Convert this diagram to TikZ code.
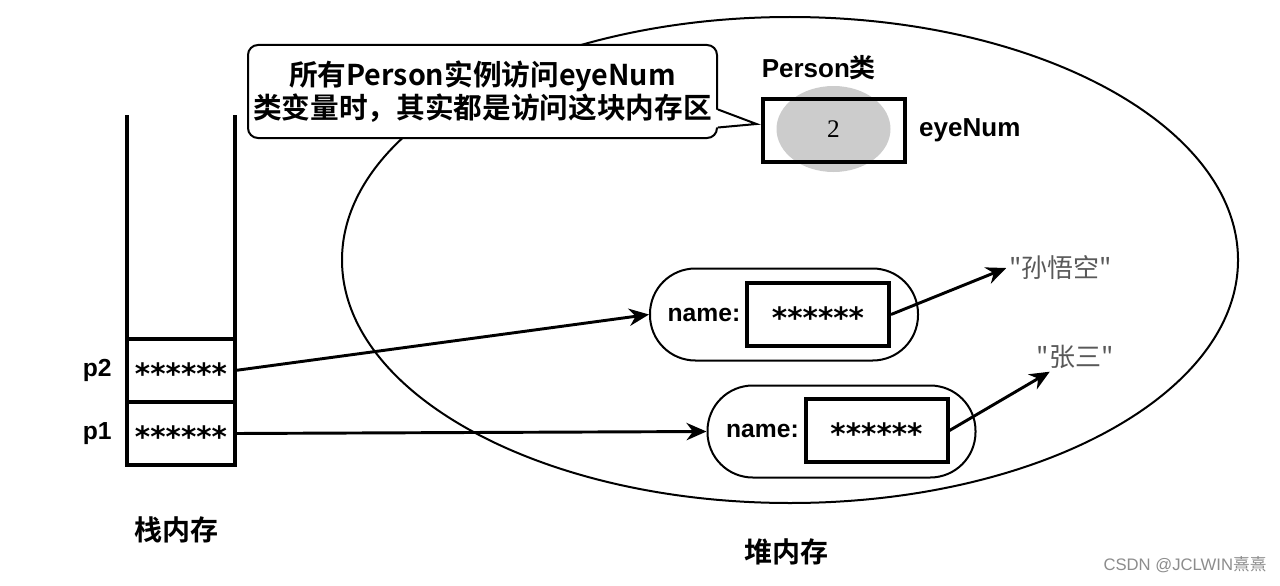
\documentclass[tikz,border=0pt]{standalone}
\usepackage{fontspec}
\setmainfont{Liberation Sans}
\newfontfamily\cjk{Noto Sans CJK SC}[BoldFont={Noto Sans CJK SC Bold}]
\newfontfamily\digitfont{Liberation Serif}
\newfontfamily\starfont{DejaVu Sans}
\usepackage{tikz}
\usetikzlibrary{positioning,calc,arrows.meta,shapes.geometric}
\tikzstyle{cell}=[draw,line width=3pt,outer sep=0pt,minimum width=81pt,minimum height=47.25pt,inner sep=0pt,font=\starfont\bfseries\fontsize{22}{22}\selectfont]
\tikzstyle{obj}=[draw,line width=1.5pt,rounded corners=34pt,minimum width=201pt,minimum height=69pt]
\tikzstyle{valbox}=[draw,line width=3pt,minimum width=106.5pt,minimum height=47.25pt,inner sep=0pt,font=\starfont\bfseries\fontsize{22}{22}\selectfont]
\tikzstyle{ptr}=[-{Stealth[length=15pt,width=13pt]},line width=2.2pt]
\newcommand{\sixstars}{\raisebox{-0.47em}[0pt][0pt]{******}}

\begin{document}
\begin{tikzpicture}[x=0.75pt,y=-0.75pt,
  lbl/.style={font=\bfseries\fontsize{18.5}{20}\selectfont},
  title/.style={font=\cjk\bfseries\fontsize{21}{21}\selectfont},
  strval/.style={inner sep=2pt,text=black!65,font=\cjk\fontsize{19.5}{20}\selectfont}]
\useasboundingbox[fill=white] (0,0) rectangle (1280,585);
\node[draw,ellipse,line width=1.5pt,minimum width=672pt,minimum height=364.5pt,inner sep=0pt] (heap) at (790,260) {};
\node[draw,fill=white,line width=1.5pt,rounded corners=7.5pt,minimum width=351.75pt,minimum height=69.75pt,
  inner sep=0pt,align=center,font=\cjk\bfseries\fontsize{21.5}{24.75}\selectfont] (note) at (482.5,91.5)
  {所有Person实例访问eyeNum\\类变量时，其实都是访问这块内存区};
\node[ellipse,fill=black!20,minimum width=85.5pt,minimum height=64.5pt,inner sep=0pt,
  font=\digitfont\fontsize{19}{19}\selectfont] (val) at (833.5,129) {2};
\node[valbox] (pbox) at (833.5,130) {};
\coordinate (tip) at ($(pbox.west)+(-4,-6)$);
\fill[white] ($(note.east)+(-2,18)$) -- (tip) -- ($(note.east)+(-2,36)$) -- cycle;
\draw[line width=1.5pt] ($(note.east)+(0,18)$) -- (tip) -- ($(note.east)+(0,36)$);
\node[above=9pt of pbox,xshift=-11pt,font=\bfseries\fontsize{19.5}{20}\selectfont] (cls) {Person{\cjk 类}};
\node[right=6pt of pbox,font=\bfseries\fontsize{19.5}{20}\selectfont] (var) {eyeNum};

\node[cell] (cell2) at (181,370.5) {\sixstars};
\node[cell] (cell1) at (181,433.5) {\sixstars};
\draw[line width=3pt] ($(cell2.north west)+(0,-224)$) -- (cell2.north west);
\draw[line width=3pt] ($(cell2.north east)+(0,-224)$) -- (cell2.north east);
\node[lbl,left=8pt of cell2] (p2) {p2};
\node[lbl,left=8pt of cell1] (p1) {p1};
\node[title] (stack) at (176,530) {栈内存};
\node[title] (heaplbl) at (786,552) {堆内存};

\node[obj] (obj1) at (784,314.5) {};
\node[valbox] (box1) at (818,314.5) {\sixstars};
\node[lbl,left=0pt of box1] (name1) {name:};
\node[obj] (obj2) at (841.5,431.5) {};
\node[valbox] (box2) at (876.5,430.5) {\sixstars};
\node[lbl,left=0pt of box2] (name2) {name:};
\node[strval] (str1) at (1060.5,268) {"孙悟空"};
\node[strval] (str2) at (1075,357) {"张三"};

\draw[ptr] (cell2.east) -- (obj1.west);
\draw[ptr] (cell1.east) -- (obj2.west);
\draw[ptr] (box1.east) -- (str1.west);
\draw[ptr] (box2.east) -- ($(str2.south west)+(16,0)$);

\node[text=black!45,font=\fontsize{12.5}{13}\selectfont] (mark) at (1185,565) {CSDN @JCLWIN{\cjk 熹熹}};
\end{tikzpicture}
\end{document}
